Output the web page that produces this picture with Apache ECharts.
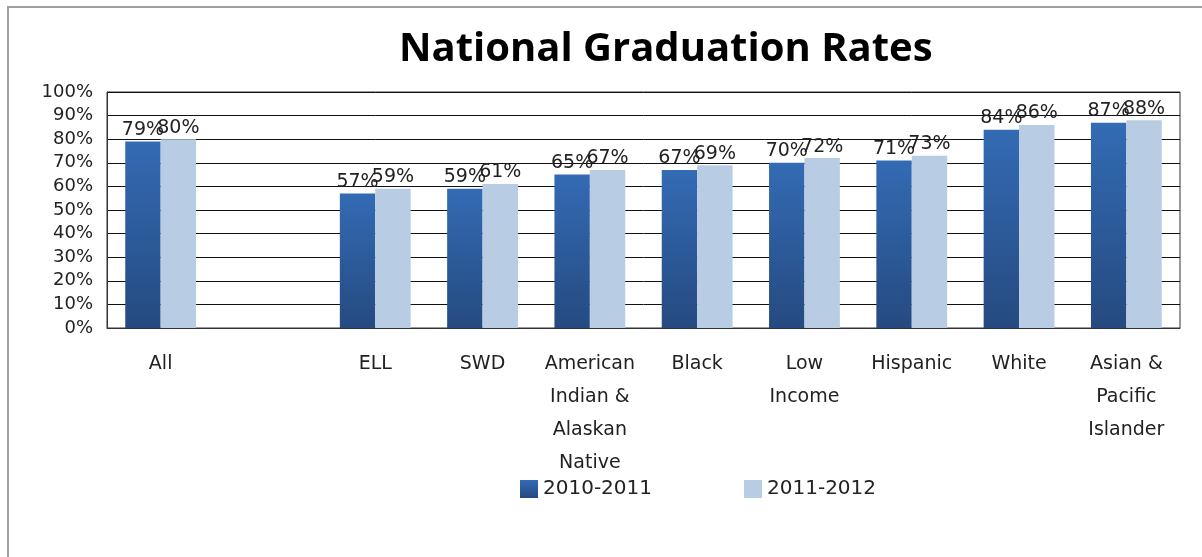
<!DOCTYPE html>
<html>
<head>
<meta charset="utf-8">
<script src="https://cdn.jsdelivr.net/npm/echarts@6/dist/echarts.min.js"></script>
<style>
  html, body { margin: 0; padding: 0; background: #fff; }
  #chart { width: 1202px; height: 557px; }
</style>
</head>
<body>
<div id="chart"></div>
<script>
  // categories (second slot is left empty, as in the source chart)
  var categories = ['All', '', 'ELL', 'SWD', 'American\nIndian &\nAlaskan\nNative', 'Black',
    'Low\nIncome', 'Hispanic', 'White', 'Asian &\nPacific\nIslander']
  var rates2010 = [79, null, 57, 59, 65, 67, 70, 71, 84, 87]
  var rates2011 = [80, null, 59, 61, 67, 69, 72, 73, 86, 88]
  var seriesNames = ['2010-2011', '2011-2012']

  var font = 'DejaVu Sans'
  var chart = echarts.init(document.getElementById('chart'))

  var barLabel = {
    show: true,
    position: 'top',
    distance: 2,
    color: '#222',
    fontFamily: font,
    fontSize: 19,
    formatter: function (p) { return p.value == null ? '' : p.value + '%' }
  }

  chart.setOption({
    animation: false,
    title: {
      text: 'National Graduation Rates',
      left: 394,
      top: 25,
      textStyle: {
        fontFamily: 'Open Sans',
        fontWeight: 'bold',
        fontSize: 40,
        color: '#000'
      }
    },
    graphic: [{
      type: 'rect',
      shape: {x: 8, y: 7, width: 1300, height: 700},
      style: {fill: 'none', stroke: '#a0a0a0', lineWidth: 2},
      silent: true
    }],
    legend: {
      data: seriesNames,
      left: 515,
      top: 474,
      itemWidth: 18,
      itemHeight: 18,
      itemGap: 92,
      icon: 'rect',
      textStyle: {fontFamily: font, fontSize: 20, color: '#222'}
    },
    grid: {
      left: 107,
      right: 22,
      top: 92,
      bottom: 229,
      show: true,
      borderColor: '#333',
      borderWidth: 1
    },
    xAxis: {
      type: 'category',
      data: categories,
      axisLine: {lineStyle: {color: '#333'}},
      axisTick: {show: false},
      axisLabel: {
        interval: 0,
        margin: 20,
        fontFamily: font,
        fontSize: 19,
        lineHeight: 33,
        color: '#222'
      }
    },
    yAxis: {
      type: 'value',
      min: 0,
      max: 100,
      interval: 10,
      axisLine: {show: true, lineStyle: {color: '#333'}},
      axisTick: {show: false},
      splitLine: {lineStyle: {color: '#111', width: 1}},
      axisLabel: {
        margin: 14,
        fontFamily: font,
        fontSize: 18,
        color: '#222',
        formatter: '{value}%'
      }
    },
    series: [
      {
        name: seriesNames[0],
        type: 'bar',
        barGap: 0,
        barCategoryGap: '34%',
        data: rates2010,
        label: barLabel,
        itemStyle: {
          color: new echarts.graphic.LinearGradient(0, 0, 0, 1, [
            {offset: 0, color: '#336bb4'},
            {offset: 1, color: '#254a80'}
          ])
        }
      },
      {
        name: seriesNames[1],
        type: 'bar',
        data: rates2011,
        label: barLabel,
        itemStyle: {color: '#b8cce4'}
      }
    ]
  })
</script>
</body>
</html>
